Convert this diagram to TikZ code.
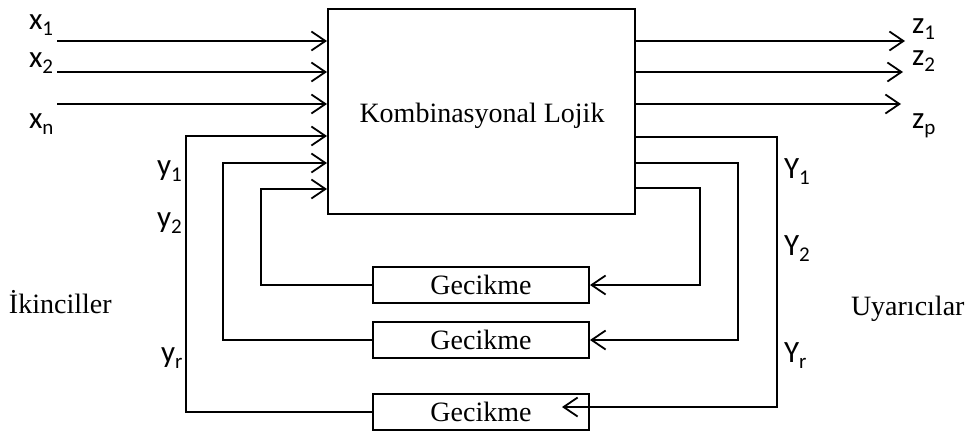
\documentclass[tikz,border=0pt]{standalone}
\usepackage{fontspec}
\setmainfont{Liberation Serif}
\newfontfamily\lblfont{Carlito}
\usetikzlibrary{arrows.meta}
\newcommand\mysub[1]{\raisebox{-6pt}{\fontsize{21}{21}\selectfont #1}}
\begin{document}
\begin{tikzpicture}[x=1pt,y=-1pt,line width=2pt,
  tip/.style={-{Straight Barb[length=14pt,width=19pt,line width=1.8pt]}},
  lab/.style={anchor=base west,inner sep=0pt,font=\lblfont\fontsize{31}{36}\selectfont},
  side/.style={anchor=base west,inner sep=0pt,font=\fontsize{28}{34}\selectfont},
  mainbox/.style={draw,minimum width=307pt,minimum height=205pt,inner sep=0pt},
  gbox/.style={draw,minimum width=216pt,minimum height=36pt,inner sep=0pt,font=\fontsize{28}{34}\selectfont}]
\useasboundingbox (0,0) rectangle (968,431);
% main block
\node[mainbox] (kl) at (481.5,111.5) {};
\node[anchor=base,inner sep=0pt,font=\fontsize{28}{34}\selectfont] (klt) at (482,122) {Kombinasyonal Lojik};
% delay blocks
\node[gbox] (g1) at (481,285) {Gecikme};
\node[gbox] (g2) at (481,340) {Gecikme};
\node[gbox] (g3) at (481,411.5) {Gecikme};
% labels
\node[lab] (lx1) at (28,29) {x\mysub{1}};
\node[lab] (lx2) at (28,67) {x\mysub{2}};
\node[lab] (lxn) at (28,128) {x\mysub{n}};
\node[lab] (ly1) at (156,175) {y\mysub{1}};
\node[lab] (ly2) at (156,227) {y\mysub{2}};
\node[lab] (lyr) at (160,362) {y\mysub{r}};
\node[lab] (lz1) at (911,33) {z\mysub{1}};
\node[lab] (lz2) at (911,65) {z\mysub{2}};
\node[lab] (lzp) at (911,128) {z\mysub{p}};
\node[lab] (lY1) at (783,178) {Y\mysub{1}};
\node[lab] (lY2) at (783,255) {Y\mysub{2}};
\node[lab] (lYr) at (783,362) {Y\mysub{r}};
\node[side] (ik) at (8,313) {İkinciller};
\node[side] (uy) at (850,315) {Uyarıcılar};
% inputs
\coordinate (i1) at (57,41);
\coordinate (i2) at (57,72);
\coordinate (i3) at (57,104);
\draw[tip] (i1) -- (kl.west |- i1);
\draw[tip] (i2) -- (kl.west |- i2);
\draw[tip] (i3) -- (kl.west |- i3);
% outputs
\coordinate (o1) at (905,41);
\coordinate (o2) at (903,72);
\coordinate (o3) at (901,104);
\draw[tip] (kl.east |- o1) -- (o1);
\draw[tip] (kl.east |- o2) -- (o2);
\draw[tip] (kl.east |- o3) -- (o3);
% feedback, left side
\coordinate (a1) at (261,189);
\coordinate (a2) at (223,163);
\coordinate (a3) at (186,136);
\draw[tip] (g1.west) -| (a1) -- (kl.west |- a1);
\draw[tip] (g2.west) -| (a2) -- (kl.west |- a2);
\draw[tip] (g3.west) -| (a3) -- (kl.west |- a3);
% feedback, right side
\coordinate (b1) at (700,188);
\coordinate (b2) at (738,163);
\coordinate (b3) at (777,137);
\coordinate (e3) at (562,407);
\draw[tip] (kl.east |- b1) -- (b1) |- (g1.east);
\draw[tip] (kl.east |- b2) -- (b2) |- (g2.east);
\draw[tip] (kl.east |- b3) -- (b3) |- (e3);
\end{tikzpicture}
\end{document}
